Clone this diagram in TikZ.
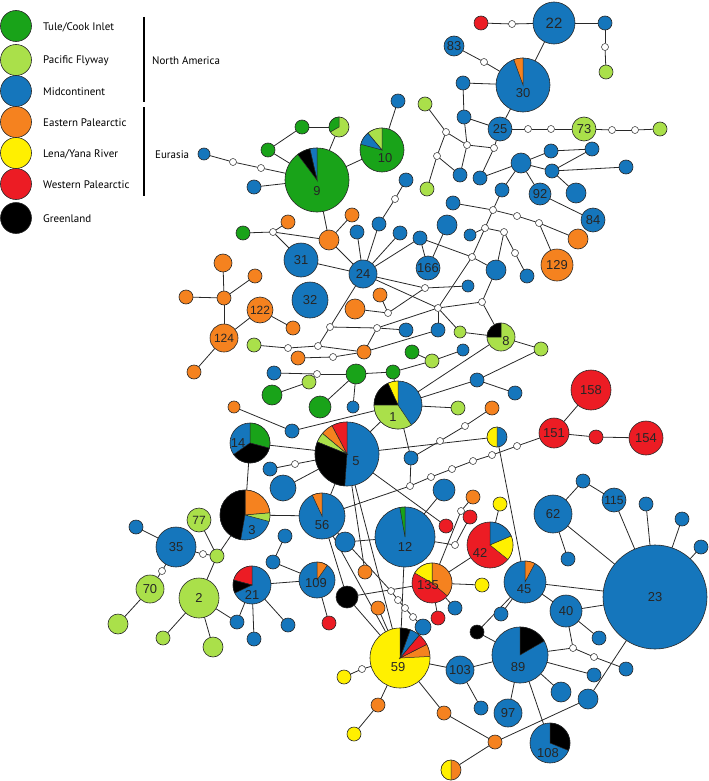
\documentclass[tikz,border=0pt]{standalone}
\usepackage{fontspec}
\setmainfont{Liberation Sans}
\newfontfamily\legfont{PT Sans}
\usetikzlibrary{backgrounds}
\definecolor{cG}{RGB}{25,163,25}
\definecolor{cL}{RGB}{170,224,74}
\definecolor{cB}{RGB}{21,118,188}
\definecolor{cO}{RGB}{245,130,31}
\definecolor{cY}{RGB}{255,240,0}
\definecolor{cR}{RGB}{236,28,36}
\definecolor{cK}{RGB}{0,0,0}
\definecolor{edgec}{RGB}{40,40,40}
\tikzset{
 hap/.style={circle,draw=edgec,line width=0.6bp,inner sep=0pt,outer sep=0pt,font=\fontsize{13}{13}\selectfont,text=black!85},
 edge/.style={draw=edgec,line width=0.8bp},
 lab/.style={font=\fontsize{13}{13}\selectfont,text=black!85,inner sep=0pt},
 legtext/.style={anchor=west,font=\legfont\fontsize{11}{11}\selectfont,inner sep=0pt},
 legline/.style={draw=black,line width=1.6bp},
}
\newcommand\N[6]{\node[hap,fill=#5,minimum size=2*#4bp] (#1) at (#2,#3) {#6};}
\newcommand\W[3]{\node[hap,fill=white,minimum size=7bp,line width=0.5bp] (#1) at (#2,#3) {};}
\newcommand\Sl[5]{\filldraw[fill=#5,draw=edgec,line width=0.5bp] (#1.center) -- ++(#3:#2bp) arc[start angle=#3,end angle=#4,radius=#2bp] -- cycle;}
\begin{document}
\begin{tikzpicture}[x=1bp,y=-1bp]
\useasboundingbox (0,0) rectangle (709,781);
% legend
\foreach \i/\c/\y/\t in {1/cG/26/Tule\slash Cook Inlet,2/cL/60/Pacific Flyway,3/cB/91/Midcontinent,4/cO/122/Eastern Palearctic,5/cY/153/Lena\slash Yana River,6/cR/184/Western Palearctic,7/cK/218/Greenland}{
  \node[hap,fill=\c,minimum size=31bp] (leg\i) at (16,\y) {};
  \node[legtext] (legt\i) at (43,\y+1) {\t};
}
\coordinate (na1) at (144,17); \coordinate (na2) at (144,102);
\coordinate (eu1) at (144,107); \coordinate (eu2) at (144,196);
\draw[legline] (na1) -- (na2);
\draw[legline] (eu1) -- (eu2);
\node[legtext] (tna) at (152,61) {North America};
\node[legtext] (teu) at (155,155) {Eurasia};
% ---------- nodes: top right
\N{r1}{481}{23}{7}{cR}{}
\W{w1}{512}{24}
\N{n22}{554}{23}{21}{cB}{\fontsize{15}{15}\selectfont 22}
\N{b1}{605}{23}{7}{cB}{}
\W{w2}{605}{47}
\N{g1}{606}{72}{7}{cL}{}
\N{n30}{523}{85}{27}{cB}{}
\N{n83}{454}{46}{10}{cB}{83}
\W{w3}{484}{62}
\N{b2}{463}{83}{7}{cB}{}
\N{b3}{464}{117}{7}{cB}{}
\N{n25}{500}{129}{12}{cB}{25}
\W{w4}{528}{129}\W{w5}{551}{129}
\N{n73}{584}{129}{12}{cL}{73}
\W{w6}{612}{130}\W{w7}{635}{130}
\N{g2}{660}{129}{7}{cL}{}
\W{w8}{467}{145}
\W{w9}{494}{148}
\N{b4}{480}{178}{7}{cB}{}
\N{b5}{521}{163}{10}{cB}{}
\N{b6}{551}{151}{7}{cB}{}
\N{b7}{592}{149}{7}{cB}{}
\N{b8}{552}{171}{7}{cB}{}
\N{b9}{626}{167}{7}{cB}{}
\N{b10}{502}{190}{7}{cB}{}
\N{n92}{540}{194}{11}{cB}{92}
\N{b11}{576}{193}{10}{cB}{}
\N{n84}{593}{220}{12}{cB}{84}
\W{w10}{493}{210}\W{w11}{517}{216}\W{w12}{539}{223}
\N{o1}{578}{239}{10}{cO}{}
\N{n129}{557}{265}{16}{cO}{129}
\W{w13}{485}{228}\W{w14}{504}{232}\W{w15}{515}{253}
\N{b12}{527}{276}{7}{cB}{}
\N{b13}{496}{270}{10}{cB}{}
\W{w16}{472}{257}
\N{b14}{470}{235}{6}{cB}{}
\N{b15}{468}{286}{6}{cB}{}
\W{w17}{482}{302}
\N{n8}{501}{337}{14}{cL}{}
\N{g3}{541}{349}{7}{cL}{}
\N{g4}{460}{332}{6}{cL}{}
\N{b16}{463}{350}{6}{cB}{}
\N{b17}{477}{380}{7}{cB}{}
\N{b18}{515}{393}{7}{cB}{}
% ---------- upper middle
\N{bL1}{204}{154}{6}{cB}{}
\W{w20}{233}{162}\W{w21}{261}{168}
\N{bL2}{254}{187}{7}{cB}{}
\N{n9}{317}{180}{32}{cG}{}
\N{p1}{339}{127}{10}{cL}{}
\N{gr1}{302}{127}{7}{cG}{}
\N{gr2}{268}{150}{7}{cG}{}
\N{n10}{382}{150}{22}{cG}{}
\N{b20}{398}{101}{7}{cB}{}
\N{g10}{425}{104}{7}{cL}{}
\W{w22}{446}{132}\W{w23}{437}{156}
\N{g11}{427}{189}{7}{cL}{}
\N{b21}{460}{175}{7}{cB}{}
\N{b22}{406}{180}{7}{cB}{}
\W{w24}{395}{199}
\N{b23}{453}{203}{7}{cB}{}
\N{b24}{447}{225}{10}{cB}{}
\N{n166}{428}{268}{12}{cB}{166}
\N{b25}{420}{238}{7}{cB}{}
\N{b26}{400}{233}{7}{cB}{}
\N{b27}{379}{224}{7}{cB}{}
\N{b28}{357}{232}{7}{cB}{}
\N{n24}{363}{274}{14}{cB}{24}
\N{o10}{352}{215}{7}{cO}{}
\N{o11}{329}{240}{10}{cO}{}
\N{o12}{288}{222}{7}{cO}{}
\N{gr3}{243}{233}{7}{cG}{}
\W{w25}{273}{232}
\N{n31}{301}{260}{17}{cB}{31}
\N{n32}{310}{300}{18}{cB}{32}
\N{o13}{355}{309}{10}{cO}{}
\N{o14}{380}{295}{7}{cO}{}
\W{w26}{388}{313}\W{w27}{425}{288}\W{w28}{438}{308}
\W{w29}{330}{327}\W{w30}{377}{328}
\N{b29}{406}{330}{7}{cB}{}
\N{b30}{438}{330}{7}{cB}{}
\N{n122}{260}{310}{13}{cO}{\fontsize{12}{12}\selectfont 122}
\N{o15}{255}{276}{7}{cO}{}
\N{o16}{293}{328}{7}{cO}{}
\N{o20}{223}{263}{9}{cO}{}
\N{o21}{224}{298}{7}{cO}{}
\N{o22}{186}{297}{7}{cO}{}
\N{n124}{224}{338}{14}{cO}{\fontsize{12}{12}\selectfont 124}
\N{o23}{194}{372}{7}{cO}{}
\N{g12}{254}{345}{7}{cL}{}
\W{w31}{288}{348}\W{w32}{318}{346}
\N{o24}{298}{358}{7}{cO}{}
\W{w33}{333}{357}
\N{o25}{364}{352}{7}{cO}{}
\N{gr4}{412}{352}{7}{cG}{}
\N{g13}{432}{361}{7}{cL}{}
\N{b31}{274}{373}{7}{cB}{}
\W{w34}{317}{374}
\N{gr5}{356}{374}{10}{cG}{}
\N{gr6}{393}{372}{7}{cG}{}
\N{g14}{309}{382}{7}{cL}{}
\N{gr7}{272}{395}{10}{cG}{}
\N{gr8}{320}{407}{11}{cG}{}
\N{b32}{353}{407}{6}{cB}{}
\N{n1}{398}{405}{24}{cB}{}
\N{g15}{458}{408}{7}{cL}{}
\N{o26}{234}{407}{6}{cO}{}
\N{b33}{292}{431}{7}{cB}{}
\N{n14}{250}{443}{20}{cB}{}
\N{n5}{347}{454}{32}{cB}{}
\N{b34}{270}{469}{7}{cB}{}
\W{w35}{295}{464}
\N{b35}{283}{488}{13}{cB}{}
\N{b36}{411}{458}{7}{cB}{}
\W{w36}{440}{441}\W{w37}{465}{426}
\N{o27}{492}{408}{7}{cO}{}
\N{hy1}{497}{437}{10}{cB}{}
\W{w38}{517}{446}\W{w39}{492}{455}\W{w40}{473}{461}\W{w41}{452}{469}\W{w42}{431}{477}\W{w43}{410}{486}
\N{b37}{444}{490}{11}{cB}{}
\N{n151}{554}{433}{15}{cR}{151}
\N{n158}{591}{390}{20}{cR}{158}
\N{r2}{596}{437}{7}{cR}{}
\N{n154}{646}{438}{17}{cR}{154}
\N{b38}{583}{481}{7}{cB}{}
\N{n115}{614}{500}{12}{cB}{\fontsize{12}{12}\selectfont 115}
\N{n62}{553}{514}{19}{cB}{62}
\N{b39}{646}{504}{7}{cB}{}
\N{b40}{682}{519}{7}{cB}{}
\N{b41}{701}{547}{7}{cB}{}
\N{b42}{568}{559}{7}{cB}{}
\N{o28}{473}{497}{7}{cO}{}
\N{y1}{500}{504}{7}{cY}{}
\N{r3}{470}{517}{7}{cR}{}
\N{n42}{490}{545}{23}{cR}{}
\W{w44}{461}{511}\W{w45}{455}{545}
\N{r4}{446}{526}{7}{cR}{}
\N{n3}{245}{515}{25}{cB}{}
\N{n77}{199}{520}{12}{cL}{\fontsize{12}{12}\selectfont 77}
\N{bL3}{136}{527}{7}{cB}{}
\N{n35}{176}{547}{20}{cB}{35}
\W{w46}{203}{554}
\N{g16}{217}{556}{7}{cL}{}
\W{w47}{162}{571}
\N{n70}{150}{589}{14}{cL}{70}
\N{g17}{118}{624}{10}{cL}{}
\N{n2}{199}{598}{20}{cL}{2}
\N{g18}{163}{638}{7}{cL}{}
\N{g19}{213}{647}{10}{cL}{}
\N{b43}{237}{622}{7}{cB}{}
\N{n56}{322}{516}{23}{cB}{}
\N{n12}{405}{537}{30}{cB}{}
\N{b44}{345}{542}{10}{cB}{}
\N{o29}{365}{572}{7}{cO}{}
\N{b45}{285}{536}{7}{cB}{}
\N{b46}{273}{562}{7}{cB}{}
\N{n109}{317}{580}{18}{cB}{}
\N{n21}{252}{585}{19}{cB}{}
\N{b47}{254}{639}{7}{cB}{}
\N{b48}{288}{625}{7}{cB}{}
\N{r5}{329}{623}{7}{cR}{}
\N{bk1}{347}{597}{11}{cK}{}
\N{o30}{378}{608}{7}{cO}{}
\W{w48}{391}{591}\W{w49}{398}{600}\W{w50}{405}{608}\W{w51}{413}{617}
\N{b49}{423}{627}{8}{cB}{}
\N{n135}{432}{583}{20}{cR}{}
\N{r6}{438}{618}{7}{cR}{}
\N{b50}{455}{608}{7}{cB}{}
\N{n59}{400}{658}{30}{cY}{}
\N{y2}{344}{677}{7}{cY}{}
\W{w52}{362}{669}
\N{o31}{378}{705}{7}{cO}{}
\N{y3}{354}{734}{7}{cY}{}
\N{o32}{444}{713}{7}{cO}{}
\N{n103}{460}{670}{14}{cB}{103}
\N{oy1}{451}{770}{10}{cO}{}
\N{n45}{525}{582}{21}{cB}{}
\N{y4}{482}{585}{7}{cY}{}
\N{b51}{501}{614}{7}{cB}{}
\N{bk2}{477}{632}{7}{cK}{}
\N{n40}{566}{611}{16}{cB}{40}
\N{b52}{599}{638}{7}{cB}{}
\W{w53}{573}{648}\W{w54}{594}{657}
\N{b53}{626}{669}{7}{cB}{}
\N{n23}{655}{597}{52}{cB}{23}
\N{n89}{520}{655}{28}{cB}{}
\N{b54}{594}{675}{7}{cB}{}
\N{b55}{561}{692}{10}{cB}{}
\N{b56}{588}{699}{10}{cB}{}
\N{b57}{481}{708}{7}{cB}{}
\N{n97}{508}{713}{14}{cB}{97}
\N{n108}{550}{743}{20}{cB}{}
\N{o33}{495}{742}{7}{cO}{}
% ---------- pie slices
\Sl{n30}{27}{90}{110}{cO}
\Sl{n9}{32}{90}{103}{cB}\Sl{n9}{32}{103}{127}{cK}
\Sl{p1}{10}{90}{210}{cG}
\Sl{n10}{22}{90}{130}{cL}\Sl{n10}{22}{130}{165}{cB}
\Sl{n8}{14}{90}{180}{cK}
\Sl{n1}{24}{90}{115}{cY}\Sl{n1}{24}{115}{180}{cK}\Sl{n1}{24}{180}{304}{cL}
\Sl{n14}{20}{-15}{90}{cG}\Sl{n14}{20}{215}{345}{cK}
\Sl{n5}{32}{90}{118}{cR}\Sl{n5}{32}{118}{140}{cO}\Sl{n5}{32}{140}{158}{cL}\Sl{n5}{32}{158}{266}{cK}
\Sl{n3}{25}{5}{90}{cO}\Sl{n3}{25}{90}{260}{cK}\Sl{n3}{25}{-15}{5}{cL}
\Sl{n56}{23}{90}{115}{cO}
\Sl{n12}{30}{90}{100}{cG}
\Sl{n109}{18}{55}{90}{cO}
\Sl{n21}{19}{90}{165}{cR}\Sl{n21}{19}{165}{205}{cK}
\Sl{n135}{20}{-40}{90}{cO}\Sl{n135}{20}{90}{150}{cY}
\Sl{n59}{30}{3}{27}{cO}\Sl{n59}{30}{27}{50}{cR}\Sl{n59}{30}{50}{70}{cB}\Sl{n59}{30}{70}{90}{cK}
\Sl{n42}{23}{23}{90}{cB}\Sl{n42}{23}{-39}{23}{cY}
\Sl{n45}{21}{62}{90}{cO}
\Sl{n89}{28}{30}{90}{cK}
\Sl{n108}{20}{-22}{90}{cK}
\Sl{hy1}{10}{90}{270}{cY}
\Sl{oy1}{10}{90}{270}{cY}
% ---------- pie labels
\node[lab] (l30) at (523,93) {30};
\node[lab] (l9) at (317,191) {9};
\node[lab] (l10) at (385,158) {10};
\node[lab] (l8) at (506,341) {8};
\node[lab] (l1) at (393,417) {1};
\node[lab] (l14) at (238,443) {14};
\node[lab] (l5) at (356,461) {5};
\node[lab] (l3) at (252,530) {3};
\node[lab] (l56) at (322,525) {56};
\node[lab] (l12) at (405,547) {12};
\node[lab] (l109) at (316,583) {109};
\node[lab] (l21) at (252,595) {21};
\node[lab] (l135) at (428,585) {135};
\node[lab] (l59) at (398,667) {59};
\node[lab] (l42) at (480,553) {42};
\node[lab] (l45) at (524,589) {45};
\node[lab] (l89) at (518,667) {89};
\node[lab] (l108) at (548,753) {108};
% ---------- edges
\begin{pgfonlayer}{background}
\foreach \a/\b in {r1/w1,w1/n22,n22/b1,b1/w2,w2/g1,n22/n30,n83/w3,w3/n30,n30/b2,n30/n25,b2/b3,b3/n25,b3/w8,
 n25/w4,w4/w5,w5/n73,n73/w6,w6/w7,w7/g2,n25/w9,w8/w9,w9/b4,b4/b5,b5/b6,b5/b10,b5/n92,b6/b7,b8/b7,b5/b8,b8/b9,b8/b11,
 n92/n84,b10/w10,w10/w11,w11/w12,w12/o1,w12/n129,w10/w13,w13/w14,w13/w16,w14/b13,w14/w15,w15/b12,w16/b13,b13/w17,
 w17/n8,n8/g4,n8/g3,g3/b17,b17/n1,n8/n1,b14/w13,b15/w27,w16/b25,w16/w28,w17/w28,w8/b21,w23/b21,w22/w8,g10/w22,
 w22/w23,w23/g11,b23/w10,
 bL1/w20,w20/w21,w21/n9,bL2/n9,gr2/n9,gr1/gr2,gr1/p1,p1/n9,n9/n10,n10/b20,n9/o11,o10/o11,o11/n24,gr3/w25,w25/o11,
 w25/n31,o12/w25,n31/n24,n24/b28,n24/b27,b27/w24,w24/b22,n24/b26,n24/b25,b25/n166,b24/n166,n24/w27,n24/w28,n24/w29,
 w29/w30,w30/w28,w29/w32,w32/w31,w31/g12,w32/o25,w30/o25,o24/w33,w33/o25,o14/w26,w26/w27,o13/w26,
 o15/o21,o20/o21,o22/o21,o21/n124,n124/o23,n124/n122,n122/o16,
 o25/b30,b30/w28,gr4/g13,gr6/g13,g13/b16,g4/w28,b29/w30,
 n1/g15,n1/b33,b33/o26,n1/b36,n1/n5,n1/gr6,b31/w34,w34/gr5,gr5/b32,gr5/gr6,gr8/gr5,g14/gr7,
 n5/n14,n5/w35,w35/b34,n5/b35,n5/n56,n5/r4,n5/n59,n5/hy1,n14/n3,n3/n56,n3/g16,g16/n77,g16/w46,w46/n35,n35/bL3,
 n35/w47,w47/n70,n70/g17,g16/n2,n2/g18,n2/g19,n2/b43,
 b36/w43,w43/w42,w42/w41,w41/w40,w40/w39,w39/w38,w38/n151,w43/n56,b36/w36,w36/w37,w37/o27,
 n151/n158,n151/r2,r2/n154,n62/b38,b38/n115,n115/n23,b39/n23,b40/n23,b41/n23,n62/b42,n62/n23,hy1/n45,
 n12/b44,n12/n59,n56/bk1,n56/w48,w48/w49,w49/w50,w50/w51,w51/b49,bk1/n59,bk1/n135,n56/n59,
 n21/n109,n21/b43,n21/b47,n21/b48,b45/b46,b46/n109,n109/r5,
 n135/y4,n135/r6,n135/b50,n135/n42,n42/y1,o28/w44,w44/n135,r3/w45,w45/n12,b37/n12,
 n45/n23,n45/b51,n45/n40,n45/bk2,n40/n23,n40/b52,n40/w53,w53/w54,w54/b53,n89/w53,n89/b54,n89/b55,n89/n97,n89/n108,
 n89/bk2,n89/n103,n103/b57,n103/n59,b56/n23,b56/o33,o33/oy1,o32/o33,n59/o32,n59/w52,w52/y2,n59/o31,o31/y3,
 o29/n5,o30/n59,b18/b17}
 \draw[edge] (\a) -- (\b);
\end{pgfonlayer}
\end{tikzpicture}
\end{document}
